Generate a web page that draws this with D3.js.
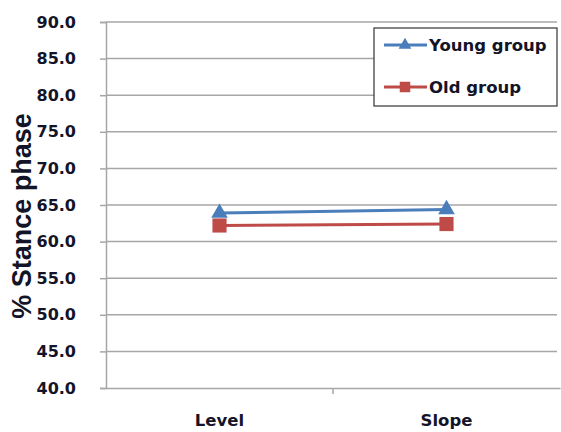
<!DOCTYPE html>
<html>
<head>
<meta charset="utf-8">
<script src="https://cdn.jsdelivr.net/npm/d3@7"></script>
<style>
  body { margin: 0; background: #fff; }
  text { font-family: "DejaVu Sans", sans-serif; font-weight: bold; fill: #141428; }
</style>
</head>
<body>
<svg id="chart" width="561" height="432"></svg>
<script>
const categories = ['Level', 'Slope'];
const youngValues = [63.9, 64.4];
const oldValues = [62.2, 62.4];
const yTicks = [40, 45, 50, 55, 60, 65, 70, 75, 80, 85, 90];

const series = [
  { name: 'Young group', values: youngValues, color: '#4a7ebb', symbol: d3.symbolTriangle },
  { name: 'Old group', values: oldValues, color: '#be4b48', symbol: d3.symbolSquare }
];

const svg = d3.select('#chart');
const margin = { left: 106, right: 1, top: 22, bottom: 44 };
const width = 561, height = 432;

const x = d3.scaleBand().domain(categories).range([margin.left, width - margin.right]);
const y = d3.scaleLinear().domain([40, 90]).range([height - margin.bottom, margin.top]);

// gridlines
svg.append('g')
  .selectAll('line').data(yTicks.slice(1))
  .enter().append('line')
    .attr('x1', margin.left).attr('x2', width - 4)
    .attr('y1', d => y(d)).attr('y2', d => y(d))
    .attr('stroke', '#a6a6a6').attr('stroke-width', 1.5);

// y axis
const yAxis = svg.append('g')
  .attr('transform', `translate(${margin.left},0)`)
  .call(d3.axisLeft(y).tickValues(yTicks).tickFormat(d3.format('.1f')).tickSize(6).tickPadding(24));
yAxis.select('.domain').attr('stroke', '#a6a6a6').attr('stroke-width', 1.5);
yAxis.selectAll('.tick line').attr('stroke', '#a6a6a6').attr('stroke-width', 1.5);
yAxis.selectAll('.tick text').style('font-size', '16px').style('font-family', '"DejaVu Sans", sans-serif').attr('fill', '#141428');

// x axis
const xAxis = svg.append('g')
  .attr('transform', `translate(0,${y(40)})`)
  .call(d3.axisBottom(x).tickSize(0).tickPadding(26));
xAxis.select('.domain').attr('stroke', '#a6a6a6').attr('stroke-width', 1.5);
xAxis.selectAll('.tick text').style('font-size', '16.5px').style('font-family', '"DejaVu Sans", sans-serif').attr('fill', '#141428');
// category separators
svg.append('g')
  .selectAll('line').data(categories.slice(1))
  .enter().append('line')
    .attr('x1', d => x(d)).attr('x2', d => x(d))
    .attr('y1', y(40)).attr('y2', y(40) + 6)
    .attr('stroke', '#a6a6a6').attr('stroke-width', 1.5);

// series
const line = d3.line()
  .x((d, i) => x(categories[i]) + x.bandwidth() / 2)
  .y(d => y(d));

series.forEach(s => {
  svg.append('path')
    .datum(s.values)
    .attr('fill', 'none')
    .attr('stroke', s.color)
    .attr('stroke-width', 3)
    .attr('d', line);
  svg.selectAll(null).data(s.values)
    .enter().append('path')
      .attr('transform', (d, i) => `translate(${x(categories[i]) + x.bandwidth() / 2},${y(d)})`)
      .attr('d', d3.symbol().type(s.symbol).size(s.symbol === d3.symbolSquare ? 200 : 120))
      .attr('fill', s.color);
});

// y title
svg.append('text')
  .attr('transform', 'translate(31,216) rotate(-90)')
  .attr('text-anchor', 'middle')
  .style('font-family', '"Liberation Sans", Arial, sans-serif')
  .style('font-size', '27px')
  .attr('fill', '#111')
  .text('% Stance phase');

// legend
const legend = svg.append('g');
legend.append('rect')
  .attr('x', 374).attr('y', 28).attr('width', 183).attr('height', 78)
  .attr('fill', '#fff').attr('stroke', '#333').attr('stroke-width', 1.2);
series.forEach((s, i) => {
  const ly = 45 + i * 42;
  legend.append('line')
    .attr('x1', 384).attr('x2', 427).attr('y1', ly).attr('y2', ly)
    .attr('stroke', s.color).attr('stroke-width', 3);
  legend.append('path')
    .attr('transform', `translate(405,${ly})`)
    .attr('d', d3.symbol().type(s.symbol).size(s.symbol === d3.symbolSquare ? 110 : 70))
    .attr('fill', s.color);
  legend.append('text')
    .attr('x', 429).attr('y', ly)
    .attr('dy', '0.35em')
    .style('font-size', '16.5px')
    .text(s.name);
});
</script>
</body>
</html>
